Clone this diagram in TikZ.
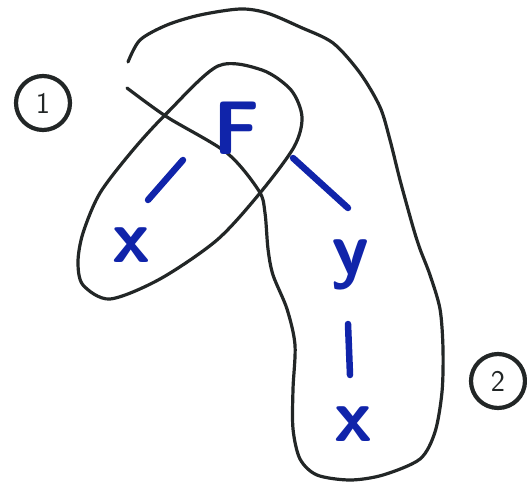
\documentclass[tikz,border=0pt]{standalone}
\usepackage{tikz}
\usetikzlibrary{calc}
\usepackage{xcolor}
\definecolor{penblue}{RGB}{16,36,170}
\definecolor{penblack}{RGB}{34,38,38}

\begin{document}
\begin{tikzpicture}[x=1pt,y=-1pt]
  \tikzset{treelabel/.style={text=penblue,font=\fontsize{76}{76}\selectfont\sffamily\bfseries,inner sep=0pt}}
  \tikzset{treeedge/.style={draw=penblue,line width=6.5pt,line cap=round}}
  \tikzset{setloop/.style={draw=penblack,line width=3.2pt,line cap=round,line join=round}}
  \tikzset{setnumber/.style={circle,draw=penblack,line width=4.2pt,minimum size=54pt,inner sep=0pt,text=penblack,font=\fontsize{30}{30}\selectfont\sffamily}}
  \useasboundingbox (0,0) rectangle (527,484);
  % the two loops
  \draw[setloop] plot[smooth cycle] coordinates {(218,66) (262,70) (291,90) (302,117) (294,147) (260,193) (217,240) (160,279) (110,299) (83,285) (78,262) (83,233) (100,193) (133,150) (167,113)};
  \draw[setloop] plot[smooth] coordinates {(128,62) (140,40) (167,25) (200,15) (240,9) (267,13) (300,27) (333,43) (360,73) (380,107) (390,140) (400,180) (413,227) (420,249) (430,275) (440,309) (443,349) (442,392) (435,432) (420,459) (383,475) (350,480) (317,475) (300,459) (293,429) (293,389) (295,345) (287,309) (273,275) (268,249) (265,213) (259,191) (227,153) (167,117) (127,88)};
  % tree
  \node[treelabel] (F) at (237,128) {F};
  \node[treelabel] (x1) at (131,245) {x};
  \node[treelabel] (y) at (350,265) {y};
  \node[treelabel] (x2) at (353,424) {x};
  \draw[treeedge] ($(F)+(-54,32)$) -- ($(x1)+(17,-45)$);
  \draw[treeedge] ($(F)+(56,30)$) -- ($(y)+(-2,-57)$);
  \draw[treeedge] ($(y)+(-2,59)$) -- ($(x2)+(-3,-49)$);
  % set numbers
  \node[setnumber] (s1) at (43,103) {1};
  \node[setnumber] (s2) at (498,381) {2};
\end{tikzpicture}
\end{document}
